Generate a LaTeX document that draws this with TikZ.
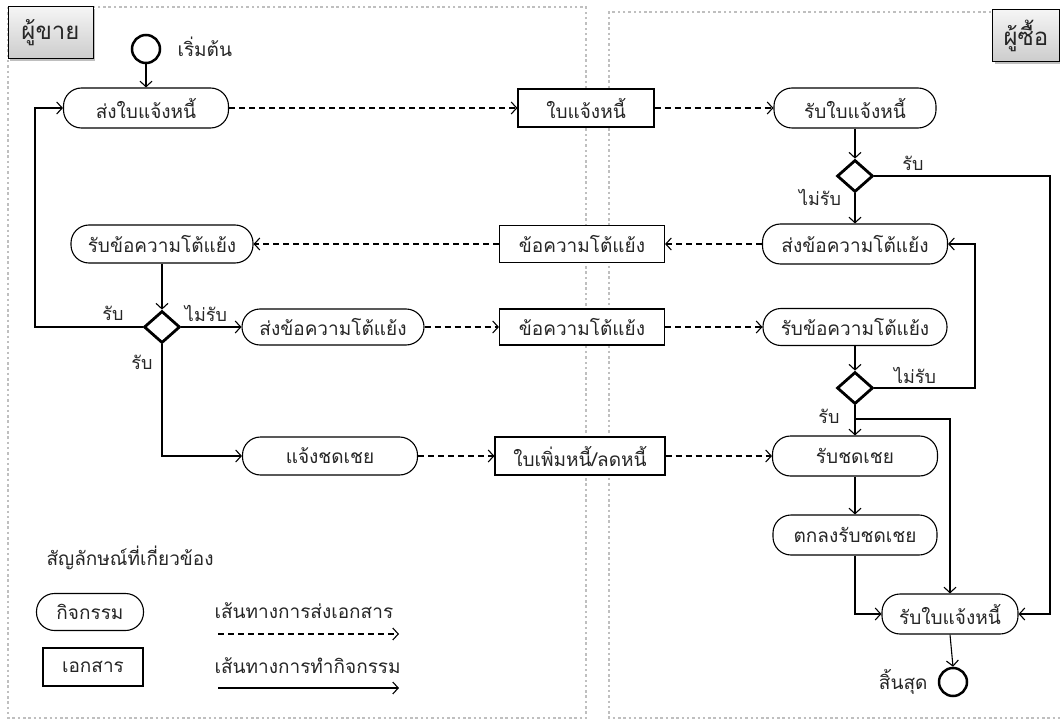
\documentclass[tikz,border=0pt]{standalone}
\usepackage{fontspec}
\setmainfont[Script=Thai]{Loma}
\usetikzlibrary{shapes.geometric,arrows.meta,shadows}
\begin{document}
\begin{tikzpicture}[x=1pt,y=-1pt,
  every node/.style={font=\fontsize{19}{21}\selectfont, text=black!85},
  act/.style={draw=black, fill=white, line width=1.1pt, rounded corners=18pt, minimum height=40pt, inner sep=0pt},
  doc/.style={draw=black, fill=white, line width=1.1pt, minimum height=38pt, inner sep=0pt},
  dec/.style={diamond, draw=black, fill=white, line width=2.8pt, minimum width=36pt, minimum height=32pt, inner sep=0pt},
  terminal/.style={circle, draw=black, fill=white, line width=2.5pt, minimum size=28pt, inner sep=0pt},
  flow/.style={line width=1.1pt, -{Straight Barb[length=5.5pt,width=12pt]}},
  docflow/.style={flow, dash pattern=on 6pt off 4pt},
  lane/.style={draw=gray!50, line width=2.5pt, dash pattern=on 2.5pt off 2.8pt},
  hdr/.style={draw=black, line width=1pt, top color=gray!8, bottom color=gray!40,
    drop shadow={shadow xshift=2pt,shadow yshift=-2pt,opacity=.5}, inner sep=0pt,
    font=\fontsize{24}{26}\selectfont},
  lbl/.style={font=\fontsize{18}{20}\selectfont, inner sep=1pt}
]
\useasboundingbox (0,0) rectangle (1060,722);
% lanes
\draw[lane] (8,7) rectangle (586,718);
\draw[lane] (1060,12) -- (609,12) -- (609,718) -- (1060,718);
\node[hdr, minimum width=85pt, minimum height=52pt] (hL) at (50.5,33) {ผู้ขาย};
\node[hdr, minimum width=67pt, minimum height=52pt] (hR) at (1026,36) {ผู้ซื้อ};

% nodes
\node[terminal] (start) at (146,49) {};
\node[anchor=west] (startl) at (174,47) {เริ่มต้น};
\node[act, minimum width=165pt] (a1) at (146,108) {ส่งใบแจ้งหนี้};
\node[doc, minimum width=136pt] (d1) at (586,108) {ใบแจ้งหนี้};
\node[act, minimum width=162pt] (b1) at (855,108) {รับใบแจ้งหนี้};
\node[dec] (dia1) at (855,176) {};
\node[act, minimum width=185pt] (b2) at (855,244) {ส่งข้อความโต้แย้ง};
\node[doc, minimum width=165pt, minimum height=37pt] (d2) at (582,244) {ข้อความโต้แย้ง};
\node[act, minimum width=182pt, minimum height=38pt] (a2) at (162,244) {รับข้อความโต้แย้ง};
\node[dec] (dia3) at (162,327) {};
\node[act, minimum width=182pt, minimum height=36pt] (a3) at (333,327) {ส่งข้อความโต้แย้ง};
\node[doc, minimum width=165pt, minimum height=36pt] (d3) at (582,327) {ข้อความโต้แย้ง};
\node[act, minimum width=184pt, minimum height=37pt] (b3) at (855,327) {รับข้อความโต้แย้ง};
\node[dec] (dia2) at (855,388) {};
\node[act, minimum width=175pt, minimum height=38pt] (a4) at (330,456) {แจ้งชดเชย};
\node[doc, minimum width=170pt] (d4) at (580,456) {ใบเพิ่มหนี้/ลดหนี้};
\node[act, minimum width=165pt] (b4) at (855,456) {รับชดเชย};
\node[act, minimum width=164pt] (b5) at (855,535) {ตกลงรับชดเชย};
\node[act, minimum width=136pt] (b6) at (950,614) {รับใบแจ้งหนี้};
\node[terminal] (end) at (953,682) {};
\node[anchor=east] (endl) at (931,682) {สิ้นสุด};

% helper coordinates
\coordinate (lp) at (35,0);
\coordinate (lp2) at (975,0);
\coordinate (rt) at (1050,0);
\coordinate (br) at (855,419);

% connectors
\draw[flow] (start) -- (a1);
\draw[docflow] (a1.east) -- (d1.west);
\draw[docflow] (d1.east) -- (b1.west);
\draw[flow] (b1) -- (dia1);
\draw[flow] (dia1) -- (b2);
\draw[flow] (dia1.east) -- (dia1.east -| rt) |- (b6.east);
\draw[docflow] (b2.west) -- (d2.east);
\draw[docflow] (d2.west) -- (a2.east);
\draw[flow] (a2) -- (dia3);
\draw[flow] (dia3.west) -- (dia3.west -| lp) |- (a1.west);
\draw[flow] (dia3.east) -- (a3.west);
\draw[flow] (dia3.south) |- (a4.west);
\draw[docflow] (a3.east) -- (d3.west);
\draw[docflow] (d3.east) -- (b3.west);
\draw[flow] (b3) -- (dia2);
\draw[flow] (dia2.east) -- (dia2.east -| lp2) |- (b2.east);
\draw[flow] (dia2) -- (b4);
\draw[flow] (br) -| (b6.north);
\draw[docflow] (a4.east) -- (d4.west);
\draw[docflow] (d4.east) -- (b4.west);
\draw[flow] (b4) -- (b5);
\draw[flow] (b5.south) |- (b6.west);
\draw[flow] (b6.south) -- (end.north);

% branch labels
\node[lbl] (l1) at (913,163) {รับ};
\node[lbl] (l2) at (820,197) {ไม่รับ};
\node[lbl] (l3) at (113,313) {รับ};
\node[lbl] (l4) at (206,313) {ไม่รับ};
\node[lbl] (l5) at (142,362) {รับ};
\node[lbl] (l6) at (915,375) {ไม่รับ};
\node[lbl] (l7) at (829,416) {รับ};

% legend
\node[anchor=west] (legt) at (43,558) {สัญลักษณ์ที่เกี่ยวข้อง};
\node[act, minimum width=107pt, minimum height=37pt] (lga) at (90,612) {กิจกรรม};
\node[doc, minimum width=100pt] (lgd) at (93,667) {เอกสาร};
\node[anchor=west] (lgt1) at (211,611) {เส้นทางการส่งเอกสาร};
\node[anchor=west] (lgt2) at (211,666) {เส้นทางการทำกิจกรรม};
\coordinate (s1) at (218,634);
\coordinate (e1) at (399,634);
\coordinate (s2) at (218,688);
\coordinate (e2) at (399,688);
\draw[docflow] (s1) -- (e1);
\draw[flow] (s2) -- (e2);
\end{tikzpicture}
\end{document}
